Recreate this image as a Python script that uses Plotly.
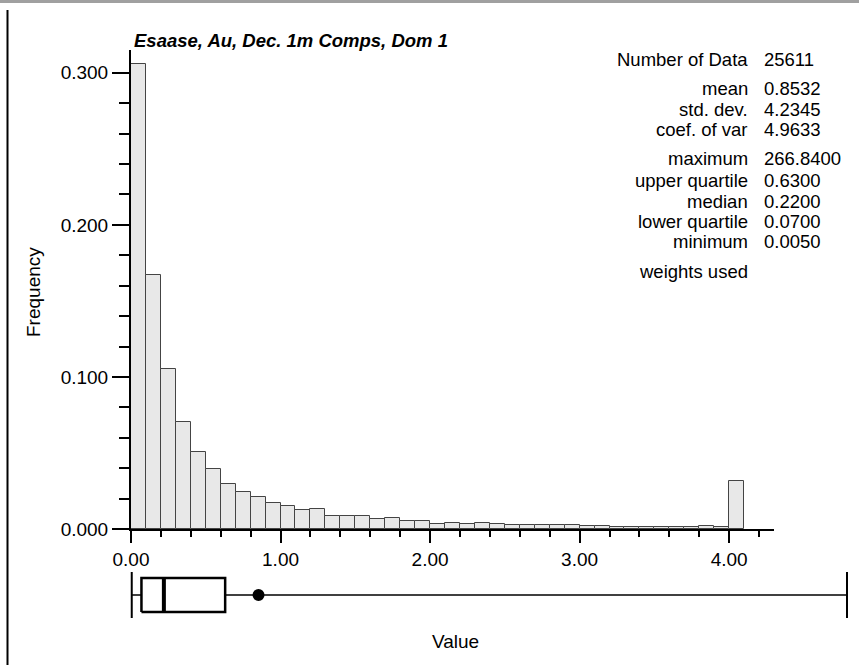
import plotly.graph_objects as go

# ---------------- data ----------------
TITLE = "Esaase, Au, Dec. 1m Comps, Dom 1"
BIN_WIDTH = 0.1
BIN_LEFT = [0.0, 0.1, 0.2, 0.3, 0.4, 0.5, 0.6, 0.7, 0.8, 0.9,
            1.0, 1.1, 1.2, 1.3, 1.4, 1.5, 1.6, 1.7, 1.8, 1.9,
            2.0, 2.1, 2.2, 2.3, 2.4, 2.5, 2.6, 2.7, 2.8, 2.9,
            3.0, 3.1, 3.2, 3.3, 3.4, 3.5, 3.6, 3.7, 3.8, 3.9,
            4.0]
FREQ = [0.306, 0.167, 0.105, 0.0706, 0.0504, 0.0393, 0.0294, 0.0246, 0.0210, 0.0169,
        0.0154, 0.0125, 0.0129, 0.0086, 0.0086, 0.0086, 0.0064, 0.0070, 0.0055, 0.0050,
        0.0033, 0.0042, 0.0033, 0.0037, 0.0033, 0.0029, 0.0024, 0.0024, 0.0024, 0.0024,
        0.0022, 0.0020, 0.0015, 0.0011, 0.0015, 0.0015, 0.0010, 0.0010, 0.0018, 0.0012,
        0.0318]

STAT_LABELS = ["Number of Data", "mean", "std. dev.", "coef. of var",
               "maximum", "upper quartile", "median", "lower quartile", "minimum",
               "weights used"]
STAT_VALUES = ["25611", "0.8532", "4.2345", "4.9633",
               "266.8400", "0.6300", "0.2200", "0.0700", "0.0050",
               ""]

MEAN = 0.8532
MAXIMUM = 266.84
Q3 = 0.63
MEDIAN = 0.22
Q1 = 0.07
MINIMUM = 0.005

# ---------------- layout constants ----------------
W, H = 859, 665
FONT = "Liberation Sans"
X_RANGE = [0, 4.3]
Y_RANGE = [0, 0.315]
BOX_RANGE = [-0.02, 4.81]
BOX_CLIP = 4.79          # box-plot panel edge: maximum is off scale


def px_x(p):
    return p / W


def px_y(p):
    return 1 - p / H


fig = go.Figure()
fig.update_layout(template=go.layout.Template())

# histogram bars
fig.add_trace(go.Bar(
    x=BIN_LEFT, y=FREQ, width=BIN_WIDTH, offset=0,
    marker=dict(color="#e8e8e8", line=dict(color="#444444", width=1)),
    hoverinfo="skip", showlegend=False,
    xaxis="x", yaxis="y",
))

# box plot (second axes)
right_end = min(MAXIMUM, BOX_CLIP)
BOX_H = 0.74
fig.add_trace(go.Scatter(
    x=[MINIMUM, right_end], y=[0, 0], mode="lines",
    line=dict(color="black", width=1.5),
    hoverinfo="skip", showlegend=False, xaxis="x2", yaxis="y2",
))
fig.add_trace(go.Scatter(
    x=[MINIMUM, MINIMUM, None, right_end, right_end], y=[-1, 1, None, -1, 1],
    mode="lines", line=dict(color="black", width=2),
    hoverinfo="skip", showlegend=False, xaxis="x2", yaxis="y2",
))
fig.add_trace(go.Scatter(
    x=[Q1, Q3, Q3, Q1, Q1], y=[-BOX_H, -BOX_H, BOX_H, BOX_H, -BOX_H],
    mode="lines", fill="toself", fillcolor="white",
    line=dict(color="black", width=2.5),
    hoverinfo="skip", showlegend=False, xaxis="x2", yaxis="y2",
))
fig.add_trace(go.Scatter(
    x=[MEDIAN, MEDIAN], y=[-BOX_H, BOX_H], mode="lines",
    line=dict(color="black", width=4),
    hoverinfo="skip", showlegend=False, xaxis="x2", yaxis="y2",
))
fig.add_trace(go.Scatter(
    x=[MEAN], y=[0], mode="markers",
    marker=dict(color="black", size=12, symbol="circle"),
    hoverinfo="skip", showlegend=False, xaxis="x2", yaxis="y2",
))

tickfont = dict(family=FONT, size=19, color="black")

fig.update_layout(
    width=W, height=H,
    margin=dict(l=0, r=0, t=0, b=0, pad=0),
    paper_bgcolor="white", plot_bgcolor="white",
    font=dict(family=FONT, color="black"),
    bargap=0, showlegend=False,
    xaxis=dict(
        domain=[px_x(131), px_x(774)], range=X_RANGE, anchor="y",
        showline=True, linecolor="black", linewidth=2,
        ticks="outside", ticklen=12, tickwidth=2, tickcolor="black",
        dtick=1, tick0=0, tickformat=".2f", tickfont=tickfont,
        minor=dict(dtick=0.2, tick0=0, ticks="outside", ticklen=6,
                   tickwidth=2, tickcolor="black", showgrid=False),
        showgrid=False, zeroline=False, fixedrange=True, automargin=False,
    ),
    yaxis=dict(
        domain=[px_y(529), px_y(50)], range=Y_RANGE, anchor="x",
        showline=True, linecolor="black", linewidth=2,
        ticks="outside", ticklen=17, tickwidth=2, tickcolor="black",
        dtick=0.1, tick0=0, tickformat=".3f", tickfont=tickfont,
        minor=dict(dtick=0.02, tick0=0, ticks="outside", ticklen=10,
                   tickwidth=2, tickcolor="black", showgrid=False),
        showgrid=False, zeroline=False, fixedrange=True, automargin=False,
    ),
    xaxis2=dict(
        domain=[px_x(128), px_x(850)], range=BOX_RANGE, anchor="y2",
        visible=False, fixedrange=True, automargin=False,
    ),
    yaxis2=dict(
        domain=[px_y(618), px_y(572)], range=[-1, 1], anchor="x2",
        visible=False, fixedrange=True, automargin=False,
    ),
)

annotations = []
annotations.append(dict(
    text="<b><i>" + TITLE + "</i></b>", x=px_x(132), y=px_y(40),
    xref="paper", yref="paper", xanchor="left", yanchor="middle",
    showarrow=False, font=dict(family=FONT, size=18.5, color="black"),
))
annotations.append(dict(
    text="Frequency", x=px_x(33), y=px_y(292), xref="paper", yref="paper",
    xanchor="center", yanchor="middle", textangle=-90, showarrow=False,
    font=dict(family=FONT, size=19, color="black"),
))
annotations.append(dict(
    text="Value", x=px_x(455), y=px_y(641), xref="paper", yref="paper",
    xanchor="center", yanchor="middle", showarrow=False,
    font=dict(family=FONT, size=19, color="black"),
))

ROW_Y = [59, 88, 109, 129, 158, 180, 201, 222, 242, 271]
for lab, val, ry in zip(STAT_LABELS, STAT_VALUES, ROW_Y):
    annotations.append(dict(
        text=lab, x=px_x(750), y=px_y(ry), xref="paper", yref="paper",
        xanchor="right", yanchor="middle", showarrow=False,
        font=dict(family=FONT, size=18.5, color="black"),
    ))
    if val:
        annotations.append(dict(
            text=val, x=px_x(762), y=px_y(ry), xref="paper", yref="paper",
            xanchor="left", yanchor="middle", showarrow=False,
            font=dict(family=FONT, size=18.5, color="black"),
        ))
fig.update_layout(annotations=annotations)

# page frame lines (top grey rule, left black rule)
fig.add_shape(type="line", xref="paper", yref="paper",
              x0=0, x1=1, y0=px_y(1.5), y1=px_y(1.5),
              line=dict(color="#a0a0a0", width=3))
fig.add_shape(type="line", xref="paper", yref="paper",
              x0=px_x(7.5), x1=px_x(7.5), y0=px_y(10), y1=0,
              line=dict(color="black", width=2))

fig.write_html(
    "out.html",
    config=dict(displayModeBar=False),
    post_script="document.body.style.margin='0';document.body.style.overflow='hidden';",
)
